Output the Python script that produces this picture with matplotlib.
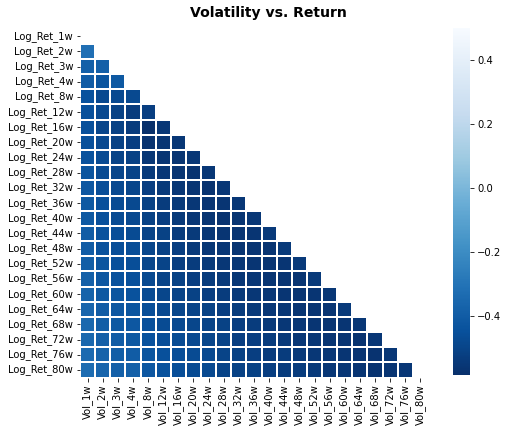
"""
# Volatility vs. Return correlation heatmap
"""

import numpy as np
import matplotlib
matplotlib.use("Agg")
import matplotlib.pyplot as plt
import seaborn as sns

# Axis labels
horizons = ["1w", "2w", "3w", "4w", "8w", "12w", "16w", "20w", "24w", "28w", "32w", "36w",
            "40w", "44w", "48w", "52w", "56w", "60w", "64w", "68w", "72w", "76w", "80w"]
vol_labels = [f"Vol_{h}" for h in horizons]
ret_labels = [f"Log_Ret_{h}" for h in horizons]

# Lower triangle values, one list per return row (row i has i values)
lower_rows = [
    [],
    [-0.32],
    [-0.38, -0.38],
    [-0.40, -0.43, -0.41],
    [-0.44, -0.48, -0.48, -0.48],
    [-0.45, -0.48, -0.51, -0.53, -0.52],
    [-0.45, -0.49, -0.51, -0.53, -0.583, -0.55],
    [-0.45, -0.48, -0.51, -0.52, -0.57, -0.56, -0.55],
    [-0.44, -0.47, -0.50, -0.51, -0.55, -0.56, -0.56, -0.55],
    [-0.43, -0.47, -0.49, -0.50, -0.54, -0.55, -0.56, -0.57, -0.55],
    [-0.42, -0.46, -0.48, -0.49, -0.52, -0.54, -0.55, -0.56, -0.57, -0.55],
    [-0.41, -0.45, -0.47, -0.48, -0.51, -0.53, -0.54, -0.55, -0.56, -0.56, -0.55],
    [-0.41, -0.45, -0.47, -0.48, -0.51, -0.52, -0.54, -0.55, -0.56, -0.57, -0.56, -0.55],
    [-0.40, -0.44, -0.46, -0.47, -0.50, -0.51, -0.53, -0.54, -0.55, -0.56, -0.56, -0.56,
     -0.54],
    [-0.40, -0.44, -0.46, -0.46, -0.49, -0.51, -0.52, -0.54, -0.55, -0.55, -0.56, -0.56,
     -0.56, -0.54],
    [-0.39, -0.43, -0.45, -0.46, -0.49, -0.50, -0.52, -0.53, -0.54, -0.55, -0.55, -0.56,
     -0.56, -0.56, -0.54],
    [-0.38, -0.42, -0.44, -0.45, -0.48, -0.50, -0.51, -0.52, -0.53, -0.54, -0.55, -0.55,
     -0.56, -0.56, -0.56, -0.54],
    [-0.37, -0.41, -0.43, -0.44, -0.47, -0.49, -0.50, -0.51, -0.52, -0.53, -0.54, -0.55,
     -0.55, -0.56, -0.56, -0.56, -0.55],
    [-0.36, -0.40, -0.42, -0.43, -0.46, -0.48, -0.49, -0.50, -0.51, -0.52, -0.53, -0.54,
     -0.55, -0.55, -0.56, -0.56, -0.56, -0.54],
    [-0.35, -0.39, -0.41, -0.42, -0.45, -0.47, -0.48, -0.49, -0.50, -0.51, -0.52, -0.53,
     -0.54, -0.55, -0.55, -0.56, -0.56, -0.56, -0.55],
    [-0.35, -0.38, -0.40, -0.41, -0.44, -0.46, -0.47, -0.48, -0.49, -0.50, -0.52, -0.52,
     -0.53, -0.54, -0.55, -0.55, -0.56, -0.56, -0.57, -0.55],
    [-0.34, -0.37, -0.39, -0.40, -0.43, -0.45, -0.46, -0.47, -0.48, -0.50, -0.51, -0.52,
     -0.53, -0.53, -0.54, -0.55, -0.55, -0.56, -0.56, -0.57, -0.55],
    [-0.33, -0.36, -0.38, -0.38, -0.42, -0.44, -0.46, -0.47, -0.48, -0.50, -0.51, -0.51,
     -0.52, -0.53, -0.53, -0.54, -0.55, -0.55, -0.56, -0.57, -0.56, -0.55],
]

n = len(horizons)
corr = np.full((n, n), np.nan)
for i, row in enumerate(lower_rows):
    corr[i, :len(row)] = row

# Hide the upper triangle (diagonal included)
mask = np.triu(np.ones((n, n), dtype=bool))

W, H, DPI = 508, 432, 72
fig = plt.figure(figsize=(W / DPI, H / DPI), dpi=DPI)
ax = fig.add_axes([80 / W, 1 - 377.6 / H, 348 / W, 349 / H])
cax = fig.add_axes([453 / W, 1 - 375 / H, 17 / W, 347 / H])

sns.heatmap(corr, mask=mask, cmap="Blues_r", vmax=0.5, linewidths=2, linecolor="white",
            xticklabels=vol_labels, yticklabels=ret_labels, ax=ax, cbar_ax=cax)

# Title sits a little right of the heatmap centre, as in the original
fig.text(268 / W, 1 - 12.5 / H, "Volatility vs. Return", fontsize=14, fontweight="bold",
         ha="center", va="center")
ax.tick_params(axis="both", labelsize=10)
plt.setp(ax.get_xticklabels(), rotation=90)
plt.setp(ax.get_yticklabels(), rotation=0)
cax.tick_params(labelsize=10)

fig.savefig("out.png", dpi=DPI)
